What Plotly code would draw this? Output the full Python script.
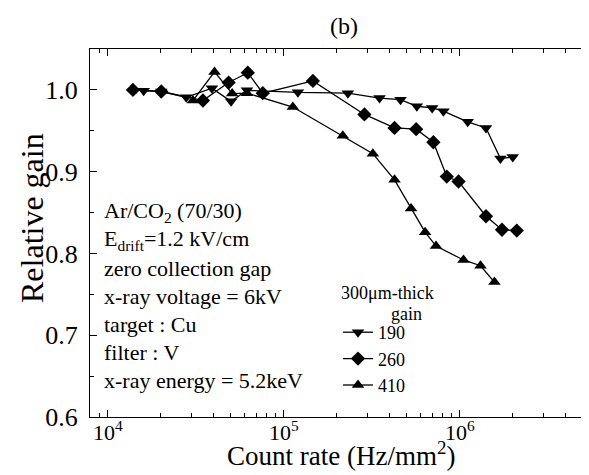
import plotly.graph_objects as go

# ---- data ----
rate_190 = [15960, 20090, 27860, 38990, 50120, 61660, 120200, 231200, 349900,
            460300, 570200, 696600, 807200, 1109000, 1409000, 1702000, 2000000]
gain_190 = [0.999, 0.998, 0.991, 1.002, 0.986, 0.9995, 0.997, 0.996, 0.990,
            0.988, 0.980, 0.978, 0.974, 0.961, 0.9535, 0.916, 0.918]

rate_260 = [13870, 20100, 34670, 48530, 62370, 75860, 146200, 287100, 425600,
            564900, 707900, 843300, 984000, 1409000, 1738000, 2109000]
gain_260 = [1.000, 0.998, 0.987, 1.009, 1.021, 0.996, 1.011, 0.970, 0.9535,
            0.952, 0.936, 0.894, 0.888, 0.8455, 0.829, 0.828]

rate_410 = [30410, 40360, 50820, 61660, 112500, 216300, 320600, 425600,
            528400, 635300, 732800, 1050000, 1312000, 1574000]
gain_410 = [0.987, 1.022, 0.9955, 0.996, 0.979, 0.944, 0.922, 0.890,
            0.855, 0.826, 0.809, 0.792, 0.785, 0.765]

series_names = ["190", "260", "410"]
series_symbols = ["triangle-down", "diamond", "triangle-up"]

x_tickvals = [1e4, 1e5, 1e6]
x_ticktext = ["10<sup>4</sup>", "10<sup>5</sup>", "10<sup>6</sup>"]
y_tickvals = [0.6, 0.7, 0.8, 0.9, 1.0]
y_ticktext = ["0.6", "0.7", "0.8", "0.9", "1.0"]

info_lines = ["Ar/CO<sub>2</sub> (70/30)",
              "E<sub>drift</sub>=1.2 kV/cm",
              "zero collection gap",
              "x-ray voltage = 6kV",
              "target : Cu",
              "filter : V",
              "x-ray energy = 5.2keV"]

# ---- figure ----
W, H = 589, 475
L, R, T, B = 82, 0, 41, 66
FONT = "Liberation Serif, Times New Roman, serif"


def px(x):
    return (x - L) / (W - L - R)


def py(y):
    return (H - B - y) / (H - T - B)


fig = go.Figure()
for rates, gains, name, sym in zip([rate_190, rate_260, rate_410],
                                   [gain_190, gain_260, gain_410],
                                   series_names, series_symbols):
    fig.add_trace(go.Scatter(
        x=rates, y=gains, name=name, mode="lines+markers",
        line=dict(color="black", width=1.3),
        marker=dict(symbol=sym, size=11, color="black"),
    ))

minor_x = [m * 10 ** k for k in range(3, 7) for m in range(2, 10)]

axis_common = dict(showgrid=False, zeroline=False, ticks="inside",
                   tickcolor="black", tickwidth=1)

fig.update_layout(
    width=W, height=H,
    margin=dict(l=L, r=R, t=T, b=B, pad=0),
    paper_bgcolor="white", plot_bgcolor="white",
    font=dict(family=FONT, color="black"),
    xaxis=dict(type="log", range=[3.898, 6.78],
               tickmode="array", tickvals=x_tickvals, ticktext=x_ticktext,
               ticklen=7, showline=True, linecolor="black", linewidth=1,
               mirror="ticks", tickfont=dict(size=22, family=FONT),
               ticklabelstandoff=-4,
               minor=dict(ticks="inside", ticklen=4, tickvals=minor_x,
                          tickcolor="black"),
               **axis_common),
    yaxis=dict(range=[0.6, 1.05], tickmode="array", tickvals=y_tickvals,
               ticktext=y_ticktext, ticklen=7, showline=True,
               linecolor="black", linewidth=1,
               tickfont=dict(size=26, family=FONT), ticklabelstandoff=6,
               minor=dict(ticks="inside", ticklen=4, dtick=0.05,
                          tick0=0.6, tickcolor="black"),
               **axis_common),
    yaxis2=dict(range=[0.6, 1.05], overlaying="y", side="right", anchor="x",
                tickmode="array", tickvals=y_tickvals, ticklen=7,
                showticklabels=False, showline=False,
                minor=dict(ticks="inside", ticklen=4, dtick=0.05,
                           tick0=0.6, tickcolor="black"),
                **axis_common),
    legend=dict(x=px(330), y=py(306), xanchor="left", yanchor="top",
                bgcolor="rgba(0,0,0,0)", borderwidth=0,
                font=dict(size=18, family=FONT), tracegroupgap=0),
    showlegend=True,
)

annotations = [
    dict(text="(b)", x=0.5, y=py(18), xref="paper", yref="paper",
         showarrow=False, font=dict(size=24, family=FONT),
         xanchor="center", yanchor="middle"),
    dict(text="Relative gain", x=px(24), y=py(210), xref="paper",
         yref="paper", showarrow=False, textangle=-90,
         font=dict(size=32, family=FONT), xanchor="center", yanchor="middle"),
    dict(text="Count rate (Hz/mm<sup>2</sup>)", x=px(333), y=py(446),
         xref="paper", yref="paper", showarrow=False,
         font=dict(size=27, family=FONT), xanchor="center", yanchor="middle"),
    dict(text="300\u03bcm-thick", x=px(331), y=py(285), xref="paper",
         yref="paper", showarrow=False, font=dict(size=18, family=FONT),
         xanchor="left", yanchor="middle"),
    dict(text="gain", x=px(381), y=py(306), xref="paper", yref="paper",
         showarrow=False, font=dict(size=18, family=FONT),
         xanchor="left", yanchor="middle"),
]
line_y = [204, 232, 260, 288, 316, 344, 372]
for txt, yy in zip(info_lines, line_y):
    annotations.append(dict(text=txt, x=px(94), y=py(yy), xref="paper",
                            yref="paper", showarrow=False,
                            font=dict(size=22, family=FONT),
                            xanchor="left", yanchor="middle"))
fig.update_layout(annotations=annotations)

fig.write_html("out.html")
